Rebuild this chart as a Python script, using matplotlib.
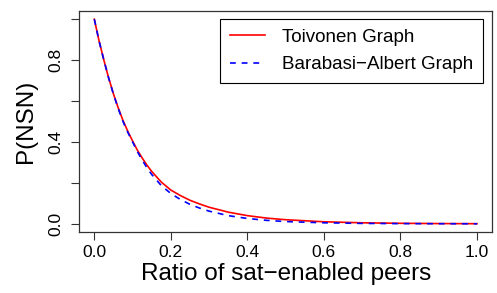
import matplotlib
matplotlib.use("Agg")
from matplotlib import pyplot as plt

# values
ratio = [0.0, 0.0125, 0.025, 0.0375, 0.05, 0.0625, 0.075, 0.0875, 0.1, 0.1125,
         0.125, 0.1375, 0.15, 0.175, 0.2, 0.225, 0.25, 0.275, 0.3, 0.35,
         0.4, 0.45, 0.5, 0.6, 0.7, 0.8, 0.9, 1.0]
toivonen = [1.0, 0.893, 0.80, 0.713, 0.635, 0.567, 0.505, 0.452, 0.405, 0.360,
            0.322, 0.287, 0.256, 0.204, 0.165, 0.138, 0.115, 0.097, 0.081, 0.057,
            0.040, 0.028, 0.020, 0.010, 0.005, 0.0025, 0.0012, 0.0006]
barabasi = [1.0, 0.893, 0.80, 0.712, 0.633, 0.563, 0.50, 0.447, 0.400, 0.353,
            0.312, 0.274, 0.241, 0.187, 0.148, 0.119, 0.095, 0.077, 0.062, 0.040,
            0.026, 0.017, 0.011, 0.005, 0.002, 0.001, 0.0005, 0.0002]
x_ticks = [0.0, 0.2, 0.4, 0.6, 0.8, 1.0]
y_ticks = [0.0, 0.2, 0.4, 0.6, 0.8, 1.0]
y_tick_labels = ["0.0", "", "0.4", "", "0.8", ""]


def main():
    plt.rcParams["font.family"] = ["Liberation Sans", "DejaVu Sans"]
    fig = plt.figure(figsize=(4.97, 2.93), dpi=100)
    ax = fig.add_axes([79 / 497, 61 / 293, 413.3 / 497, 221 / 293])

    ax.plot(ratio, toivonen, color="red", lw=1.2, label="Toivonen Graph")
    ax.plot(ratio, barabasi, color="blue", lw=1.2, dashes=(3.5, 3.5),
            label="Barabasi\u2212Albert Graph")

    ax.set_xlim(-0.04, 1.04)
    ax.set_ylim(-0.04, 1.04)
    ax.set_xticks(x_ticks)
    ax.set_xticklabels(["%.1f" % t for t in x_ticks])
    ax.set_yticks(y_ticks)
    ax.set_yticklabels(y_tick_labels, rotation=90, va="center")
    ax.tick_params(length=5.5, width=0.8, labelsize=12.5, color="#333333")
    ax.tick_params(axis="x", pad=4)
    ax.tick_params(axis="y", pad=6)
    for s in ax.spines.values():
        s.set_linewidth(0.9)
        s.set_color("#333333")

    ax.set_xlabel("Ratio of sat\u2212enabled peers", fontsize=17.5, labelpad=2)
    ax.set_ylabel("P(NSN)", fontsize=17.5, labelpad=8)

    ax.legend(loc="upper right", bbox_to_anchor=(0.9768, 0.9624), borderaxespad=0,
              fontsize=13.5, fancybox=False, edgecolor="black", framealpha=1,
              handlelength=1.9, handletextpad=0.9, borderpad=0.5, labelspacing=0.55)
    ax.get_legend().get_frame().set_linewidth(0.8)

    fig.savefig("out.png", dpi=100)


if __name__ == '__main__':
    main()
